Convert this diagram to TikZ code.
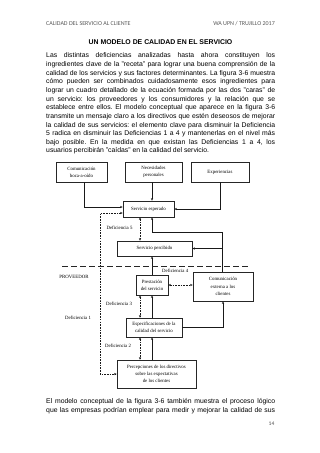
\documentclass[tikz,border=0pt]{standalone}
\usepackage{fontspec}
\setmainfont{Liberation Sans}
\newfontfamily\hdrfont{Carlito}
\newfontfamily\dgfont{Liberation Serif}
\usetikzlibrary{arrows.meta}
\frenchspacing
\newcommand\parline[4]{\node[anchor=base west, inner sep=0] (#1) at (46,#2) {\fontsize{6.85}{8.6}\selectfont\makebox[229pt][#3]{#4}};}
\begin{document}
\begin{tikzpicture}[x=1pt,y=-1pt,
  box/.style={draw=black!85, line width=0.65pt, inner sep=0pt, align=center, font=\dgfont\fontsize{4.85}{7.3}\selectfont},
  lbl/.style={inner sep=0pt, font=\dgfont\fontsize{4.85}{7.3}\selectfont},
  arr/.style={line width=0.75pt, draw=black!90, -{Stealth[length=2.6pt,width=2.2pt]}},
  darr/.style={line width=0.75pt, draw=black!90, dash pattern=on 1.6pt off 1.1pt, {Stealth[length=2.6pt,width=2.2pt]}-{Stealth[length=2.6pt,width=2.2pt]}},
  hdr/.style={inner sep=0pt, text=black!65, font=\hdrfont\fontsize{6}{7}\selectfont}]
\fill[white] (0,0) rectangle (320,453);
\useasboundingbox (0,0) rectangle (320,453);
% header
\node[hdr, anchor=base west] (hl) at (46,25) {CALIDAD DEL SERVICIO AL CLIENTE};
\node[hdr, anchor=base east] (hr) at (275,25) {WA UPN / TRUJILLO 2017};
\node[inner sep=0pt, anchor=base, font=\bfseries\fontsize{6.9}{8}\selectfont] (title) at (160.5,44.5) {UN MODELO DE CALIDAD EN EL SERVICIO};
% paragraph
\parline{p1}{57.8}{s}{Las distintas deficiencias analizadas hasta ahora constituyen los}
\parline{p2}{66.45}{s}{ingredientes clave de la "receta" para lograr una buena comprensión de la}
\parline{p3}{75.1}{s}{calidad de los servicios y sus factores determinantes. La figura 3-6 muestra}
\parline{p4}{83.75}{s}{cómo pueden ser combinados cuidadosamente esos ingredientes para}
\parline{p5}{92.4}{s}{lograr un cuadro detallado de la ecuación formada por las dos "caras" de}
\parline{p6}{101.05}{s}{un servicio: los proveedores y los consumidores y la relación que se}
\parline{p7}{109.7}{s}{establece entre ellos. El modelo conceptual que aparece en la figura 3-6}
\parline{p8}{118.35}{s}{transmite un mensaje claro a los directivos que estén deseosos de mejorar}
\parline{p9}{127.0}{s}{la calidad de sus servicios: el elemento clave para disminuir la Deficiencia}
\parline{p10}{135.65}{s}{5 radica en disminuir las Deficiencias 1 a 4 y mantenerlas en el nivel más}
\parline{p11}{144.3}{s}{bajo posible. En la medida en que existan las Deficiencias 1 a 4, los}
\parline{p12}{152.95}{l}{usuarios percibirán "caídas" en la calidad del servicio.}
% diagram boxes
\node[box, minimum width=51pt, minimum height=20pt] (com) at (81.5,172) {Comunicación\\boca-a-oído};
\node[box, minimum width=57pt, minimum height=20pt] (nec) at (153.5,172) {Necesidades\\personales};
\node[box, minimum width=58pt, minimum height=20pt] (exp) at (220,172) {Experiencias};
\node[box, minimum width=51pt, minimum height=16pt] (esp) at (148.5,209) {Servicio esperado};
\node[box, minimum width=75pt, minimum height=15pt] (per) at (154.5,248.5) {Servicio percibido};
\node[box, minimum width=32pt, minimum height=20pt] (pre) at (152,285) {Prestación\\del servicio};
\node[box, minimum width=60pt, minimum height=29pt] (cext) at (223,286.5) {Comunicación\\externa a los\\clientes};
\node[box, minimum width=56pt, minimum height=19pt] (espec) at (154,327.5) {Especificaciones de la\\calidad del servicio};
\node[box, minimum width=79pt, minimum height=28pt] (perc) at (156.5,374) {Percepciones de los directivos\\sobre las expectativas\\de los clientes};
% labels
\node[lbl] (d5) at (119.5,228) {Deficiencia 5};
\node[lbl, anchor=west] (d4) at (162,271) {Deficiencia 4};
\node[lbl] (d3) at (119,304) {Deficiencia 3};
\node[lbl] (d1) at (78,318) {Deficiencia 1};
\node[lbl] (d2) at (118,346) {Deficiencia 2};
\node[lbl] (prov) at (74,277) {PROVEEDOR};
% helper coordinates
\coordinate (gx) at (140,0);
\coordinate (sx) at (152,0);
\coordinate (cx) at (222,0);
\coordinate (c4) at (222,232);
\coordinate (dl) at (100,300);
\coordinate (sepL) at (62,266);
\coordinate (sepR) at (249,266);
% connectors
\draw[arr] ([xshift=2.5pt]com.south) |- ([yshift=2pt]esp.west);
\draw[arr] (nec.south -| sx) -- (esp.north -| sx);
\draw[arr] (exp.south) |- (esp.east);
\draw[darr] ([yshift=-4pt]esp.west) -| (dl) |- (perc.west);
\draw[darr] (esp.south -| gx) -- (per.north -| gx);
\draw[arr] (cext.north -| cx) -- (c4) -| (esp.south -| sx);
\draw[arr] (per.east -| cx) -- (per.east);
\draw[arr] (pre.north -| sx) -- (per.south -| sx);
\draw[line width=0.8pt, draw=black!85, dash pattern=on 6pt off 3pt] (sepL) -- (sepR);
\draw[darr] (pre.east) -- (pre.east -| cext.west);
\draw[darr] (pre.south -| gx) -- (espec.north -| gx);
\draw[arr] (espec.north -| sx) -- (pre.south -| sx);
\draw[arr] (espec.east) -| (cext.south);
\draw[darr] (espec.south -| gx) -- (perc.north -| gx);
\draw[arr] (perc.north -| sx) -- (espec.south -| sx);
% bottom paragraph
\parline{q1}{403.8}{s}{El modelo conceptual de la figura 3-6 también muestra el proceso lógico}
\parline{q2}{412.4}{s}{que las empresas podrían emplear para medir y mejorar la calidad de sus}
\node[hdr, anchor=base east, text=black!70, font=\hdrfont\fontsize{5.5}{6}\selectfont] (pg) at (274.5,425) {14};
\end{tikzpicture}
\end{document}
